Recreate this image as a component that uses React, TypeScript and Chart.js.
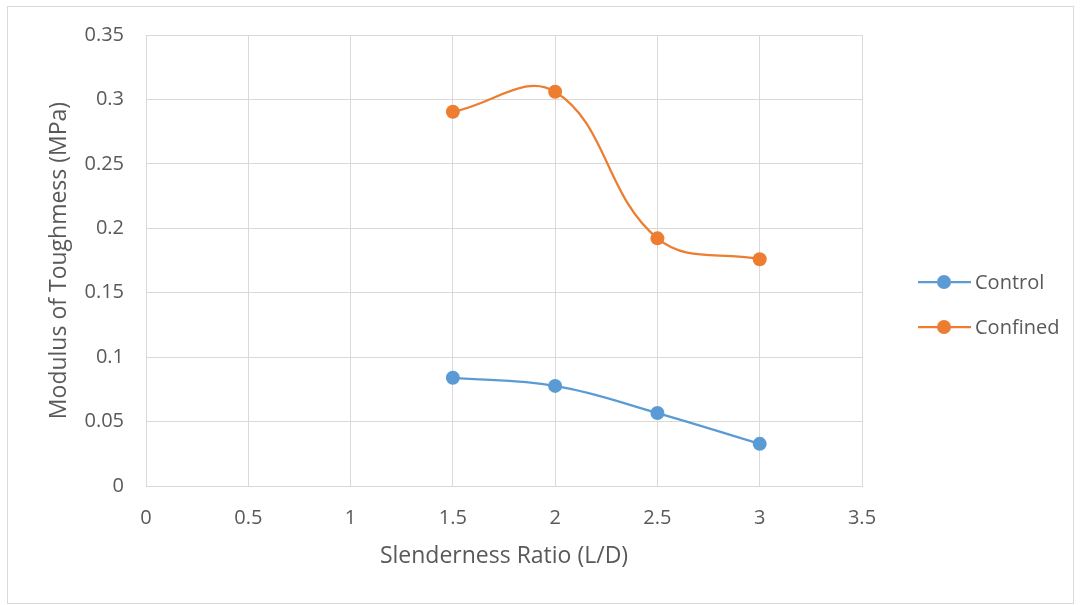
import React, { useEffect, useRef } from "react";
import { Chart, registerables } from "chart.js";

Chart.register(...registerables);

const xValues = [1.5, 2, 2.5, 3];
const controlValues = [0.084, 0.0777, 0.0566, 0.0327];
const confinedValues = [0.2904, 0.306, 0.1922, 0.176];
const seriesNames = ["Control", "Confined"];
const xTitle = "Slenderness Ratio (L/D)";
const yTitle = "Modulus of Toughmess (MPa)";

const FONT = "'Open Sans', sans-serif";
const TEXT = "#595959";
const GRID = "#d9d9d9";

const framePlugin = {
  id: "frame",
  afterDraw(chart: any) {
    const ctx = chart.ctx;
    ctx.save();
    ctx.strokeStyle = "#d9d9d9";
    ctx.lineWidth = 1;
    ctx.strokeRect(7.5, 6.5, 1066, 597);
    // legend
    const ds = chart.data.datasets;
    ctx.font = `20px ${FONT}`;
    ctx.textBaseline = "middle";
    ctx.textAlign = "left";
    const ys = [282, 327];
    ds.forEach((d: any, i: number) => {
      const y = ys[i];
      ctx.strokeStyle = d.borderColor;
      ctx.lineWidth = 2.25;
      ctx.beginPath();
      ctx.moveTo(918, y);
      ctx.lineTo(971, y);
      ctx.stroke();
      ctx.fillStyle = d.borderColor;
      ctx.beginPath();
      ctx.arc(944, y, 7, 0, Math.PI * 2);
      ctx.fill();
      ctx.fillStyle = TEXT;
      ctx.fillText(d.label, 975, y + 1);
    });
    ctx.restore();
  },
};

const fmt = (v: any) => String(+Number(v).toFixed(2));

export default function App() {
  const ref = useRef<HTMLCanvasElement>(null);
  useEffect(() => {
    const mk = (vals: number[]) => xValues.map((x, i) => ({ x, y: vals[i] }));
    const chart = new Chart(ref.current!, {
      type: "line",
      data: {
        datasets: [
          {
            label: seriesNames[0],
            data: mk(controlValues),
            borderColor: "#5b9bd5",
            backgroundColor: "#5b9bd5",
            borderWidth: 2.25,
            pointRadius: 7,
            pointHoverRadius: 7,
            pointBorderWidth: 0,
            tension: 0.4,
          },
          {
            label: seriesNames[1],
            data: mk(confinedValues),
            borderColor: "#ed7d31",
            backgroundColor: "#ed7d31",
            borderWidth: 2.25,
            pointRadius: 7,
            pointHoverRadius: 7,
            pointBorderWidth: 0,
            tension: 0.4,
          },
        ],
      },
      options: {
        animation: false,
        responsive: false,
        maintainAspectRatio: false,
        layout: { padding: { top: 35, right: 219, bottom: 0, left: 0 } },
        plugins: {
          legend: { display: false },
          tooltip: { enabled: false },
        },
        scales: {
          x: {
            type: "linear",
            min: 0,
            max: 3.5,
            afterFit: (s: any) => {
              s.height = 119;
            },
            ticks: {
              stepSize: 0.5,
              callback: fmt,
              color: TEXT,
              font: { family: FONT, size: 20 },
              padding: 20,
              maxRotation: 0,
            },
            grid: { color: GRID, drawTicks: false, lineWidth: 1 },
            border: { color: GRID },
            title: {
              display: true,
              text: xTitle,
              color: TEXT,
              font: { family: FONT, size: 23 },
              padding: { top: 10, bottom: 35 },
            },
          },
          y: {
            type: "linear",
            min: 0,
            max: 0.35,
            afterFit: (s: any) => {
              s.width = 146;
            },
            ticks: {
              stepSize: 0.05,
              callback: fmt,
              color: TEXT,
              font: { family: FONT, size: 20 },
              padding: 22,
            },
            grid: { color: GRID, drawTicks: false, lineWidth: 1 },
            border: { color: GRID },
            title: {
              display: true,
              text: yTitle,
              color: TEXT,
              font: { family: FONT, size: 23 },
              padding: { top: 46, bottom: 0 },
            },
          },
        },
      },
      plugins: [framePlugin],
    } as any);
    return () => chart.destroy();
  }, []);
  return (
    <div style={{ position: "absolute", left: 0, top: 0, width: 1081, height: 605, background: "#fff" }}>
      <canvas ref={ref} width={1081} height={605} style={{ width: 1081, height: 605, display: "block" }} />
    </div>
  );
}
